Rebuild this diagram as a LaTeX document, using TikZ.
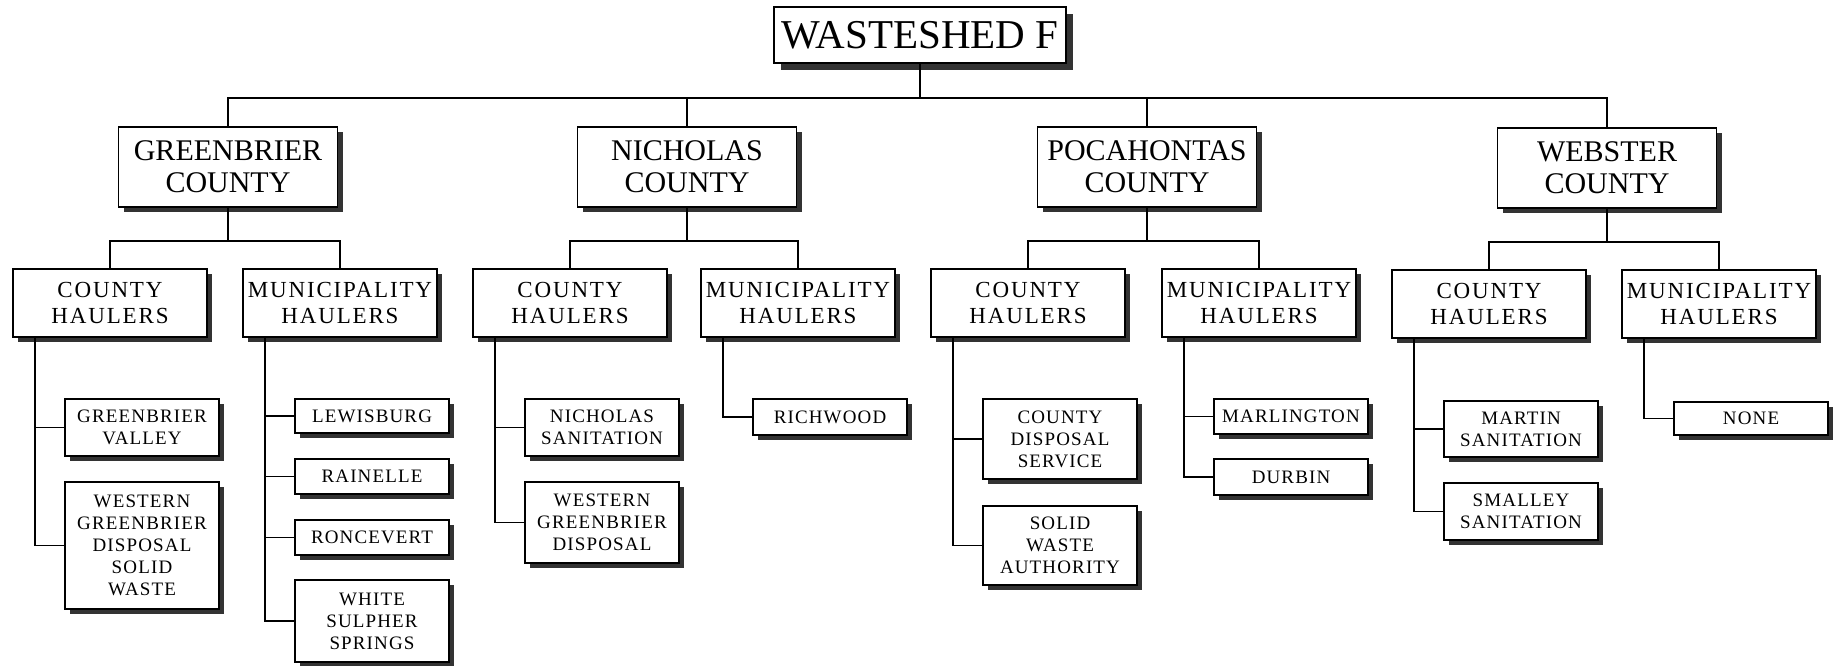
\documentclass[tikz,border=0pt]{standalone}
\usepackage{fontspec}
\setmainfont{Liberation Serif}
\usetikzlibrary{shadows}

\begin{document}
\begin{tikzpicture}[x=1pt,y=-1pt,
  boite/.style={draw,line width=1.6pt,fill=white,align=center,inner sep=0pt,
    drop shadow={shadow xshift=#1,shadow yshift=-#1,fill=black!80,opacity=1}},
  boite/.default=5pt,
  tete/.style={boite=7pt,minimum width=292pt,minimum height=56pt,font=\fontsize{41}{45}\selectfont},
  comte/.style={boite,minimum width=219pt,minimum height=80pt,font=\fontsize{30}{32}\selectfont},
  collecte/.style={boite,minimum width=194pt,minimum height=68pt,
    font=\fontsize{23}{26}\selectfont\addfontfeature{LetterSpace=8}},
  feuille/.style={boite,minimum width=154pt,minimum height=#1,
    font=\fontsize{19}{22}\selectfont\addfontfeature{LetterSpace=6}},
  trait/.style={line width=1.5pt}]
\useasboundingbox (0,0) rectangle (1835,665);
% Le bassin en haut
\node[tete] (ws) at (920,35) {WASTESHED F};
% Les quatre comtes
\node[comte] (gc) at (228,167) {GREENBRIER\\COUNTY};
\node[comte] (nc) at (687,167) {NICHOLAS\\COUNTY};
\node[comte] (pc) at (1147,167) {POCAHONTAS\\COUNTY};
\node[comte] (wc) at (1607,168) {WEBSTER\\COUNTY};
% Les collecteurs de chaque comte
\node[collecte] (gch) at (110,303) {COUNTY\\HAULERS};
\node[collecte] (gmh) at (340,303) {MUNICIPALITY\\HAULERS};
\node[collecte] (nch) at (570,303) {COUNTY\\HAULERS};
\node[collecte] (nmh) at (798,303) {MUNICIPALITY\\HAULERS};
\node[collecte] (pch) at (1028,303) {COUNTY\\HAULERS};
\node[collecte] (pmh) at (1259,303) {MUNICIPALITY\\HAULERS};
\node[collecte] (wch) at (1489,304) {COUNTY\\HAULERS};
\node[collecte] (wmh) at (1719,304) {MUNICIPALITY\\HAULERS};
% Les feuilles : le centre est a +32 du collecteur
\node[feuille=57pt] (gv) at (142,427.5) {GREENBRIER\\VALLEY};
\node[feuille=127pt] (wgs) at (142,545.5) {WESTERN\\GREENBRIER\\DISPOSAL\\SOLID\\WASTE};
\node[feuille=34pt] (lew) at (372,416) {LEWISBURG};
\node[feuille=35pt] (rai) at (372,476.5) {RAINELLE};
\node[feuille=35pt] (ron) at (372,537.5) {RONCEVERT};
\node[feuille=82pt] (whs) at (372,621) {WHITE\\SULPHER\\SPRINGS};
\node[feuille=57pt] (nsa) at (602,427.5) {NICHOLAS\\SANITATION};
\node[feuille=81pt] (wgd) at (602,522.5) {WESTERN\\GREENBRIER\\DISPOSAL};
\node[feuille=36pt] (ric) at (830,417) {RICHWOOD};
\node[feuille=80pt] (cds) at (1060,439) {COUNTY\\DISPOSAL\\SERVICE};
\node[feuille=79pt] (swa) at (1060,545.5) {SOLID\\WASTE\\AUTHORITY};
\node[feuille=35pt] (mar) at (1291,416.5) {MARLINGTON};
\node[feuille=36pt] (dur) at (1291,477) {DURBIN};
\node[feuille=56pt] (msa) at (1521,429) {MARTIN\\SANITATION};
\node[feuille=57pt] (ssa) at (1521,511.5) {SMALLEY\\SANITATION};
\node[feuille=33pt] (non) at (1751,418.5) {NONE};
% Traits du bassin vers les comtes
\foreach \c in {gc,nc,pc,wc}
  \draw[trait] (ws.south) -- ++(0,34) -| (\c.north);
% Traits des comtes vers les collecteurs
\foreach \c/\a/\b in {gc/gch/gmh,nc/nch/nmh,pc/pch/pmh,wc/wch/wmh}{
  \draw[trait] (\c.south) -- ++(0,33) -| (\a.north);
  \draw[trait] (\c.south) -- ++(0,33) -| (\b.north);
}
% Le tronc part a +23 du bord gauche du collecteur
\foreach \h/\f in {gch/gv,gch/wgs,gmh/lew,gmh/rai,gmh/ron,gmh/whs,
    nch/nsa,nch/wgd,nmh/ric,pch/cds,pch/swa,pmh/mar,pmh/dur,
    wch/msa,wch/ssa,wmh/non}
  \draw[trait] (\h.south west) ++(23,0) |- (\f.west);
\end{tikzpicture}
\end{document}
